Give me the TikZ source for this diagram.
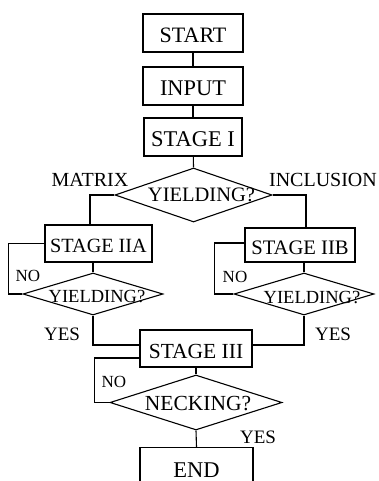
\documentclass[tikz,border=0pt]{standalone}
\usepackage{fontspec}
\setmainfont{Liberation Serif}
\usetikzlibrary{shapes.geometric}
\newcommand{\fs}[1]{\fontsize{#1}{#1}\selectfont}
\newcommand{\dtext}[3]{\raisebox{#1}[0pt][0pt]{\makebox[0pt]{\hspace{#2}#3}}}
\begin{document}
\begin{tikzpicture}[x=1pt,y=-1pt,line width=1.1pt,
  box/.style={draw,rectangle,inner sep=0pt,font=\fs{22},text height=19pt,text depth=0pt},
  dia/.style={draw,diamond,inner sep=0pt},
  lab/.style={inner sep=0pt,font=\fs{19}}]
\useasboundingbox (0,0) rectangle (378,481);
\clip (0,0) rectangle (378,481);
\fill[white] (0,0) rectangle (378,481);
% boxes
\node[box,minimum width=100pt,minimum height=38pt] (start) at (193,33) {START};
\node[box,font=\fs{22.4},minimum width=100pt,minimum height=38pt] (input) at (193,86) {INPUT};
\node[box,font=\fs{22.5},minimum width=98pt,minimum height=38pt] (s1) at (193,137) {STAGE I};
\node[dia,minimum width=157pt,minimum height=54pt] (d1) at (193.5,195)
  {\fs{20.5}\dtext{-6.5pt}{16pt}{YIELDING?}};
\node[box,font=\fs{20.2},text height=18pt,minimum width=107pt,minimum height=37pt] (iia) at (98.5,243.5) {STAGE IIA};
\node[box,font=\fs{20.6},text height=18pt,minimum width=110pt,minimum height=34pt] (iib) at (300,245) {STAGE IIB};
\node[dia,minimum width=140pt,minimum height=42pt] (d2) at (93,294)
  {\fs{18.5}\dtext{-8pt}{8pt}{YIELDING?}};
\node[dia,minimum width=140pt,minimum height=42pt] (d3) at (304,294)
  {\fs{18.5}\dtext{-9pt}{16pt}{YIELDING?}};
\node[box,font=\fs{21.5},minimum width=112pt,minimum height=37pt] (s3) at (196,348.5) {STAGE III};
\node[dia,minimum width=172pt,minimum height=55pt] (d4) at (196,402.5)
  {\fs{21.5}\dtext{-7.5pt}{4pt}{NECKING?}};
\node[box,font=\fs{22.5},text height=7pt,text depth=0pt,minimum width=113pt,minimum height=53pt,anchor=north] (end) at (196.5,447)
  {END};
% labels
\node[lab,font=\fs{20}] (lmatrix) at (90,180) {MATRIX};
\node[lab,font=\fs{20}] (lincl) at (323,180) {INCLUSION};
\node[lab,font=\fs{17}] (lno1) at (28,276) {NO};
\node[lab,font=\fs{17}] (lno2) at (235,277) {NO};
\node[lab,font=\fs{17}] (lno3) at (114,382) {NO};
\node[lab] (lyes1) at (62,334) {YES};
\node[lab] (lyes2) at (333,334) {YES};
\node[lab] (lyes3) at (258,437) {YES};
% connectors
\draw (start) -- (input);
\draw (input) -- (s1);
\draw (s1) -- (d1.north);
\draw (d1.west) -| (iia.north -| 90,0);
\draw (d1.east) -| (iib.north -| 306,0);
\draw (d2.north) -- (d2.north |- iia.south);
\draw (d3.north) -- (d3.north |- iib.south);
\draw (d2.west) -- ++(-14,0) |- (iia.west);
\draw (d3.west) -- ++(-19,0) |- ([yshift=2pt]iib.west);
\draw (d2.south) |- ([yshift=3.5pt]s3.west);
\draw (d3.south) |- ([yshift=3.5pt]s3.east);
\draw (s3) -- (d4.north);
\draw (d4.west) -- ++(-15,0) |- ([yshift=-9.5pt]s3.west);
\draw (d4.south) -- (end.north);
\end{tikzpicture}
\end{document}
